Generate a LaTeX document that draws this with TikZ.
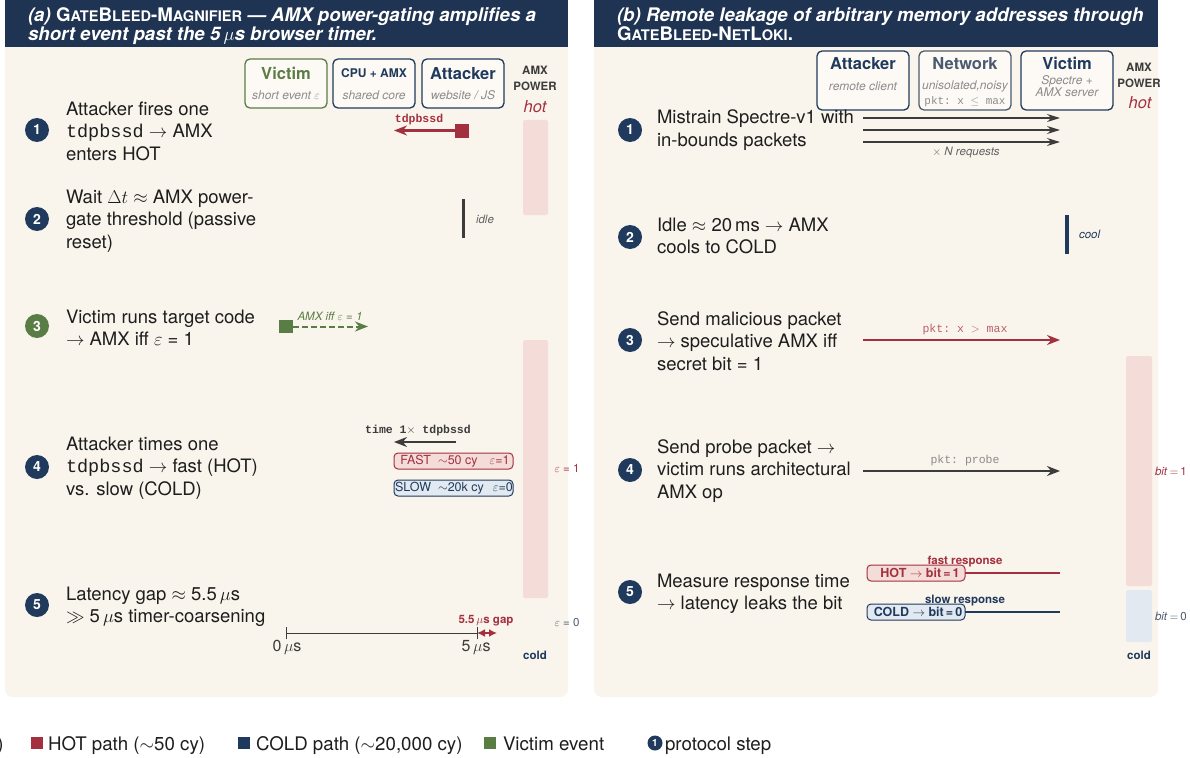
\RequirePackage{fix-cm}
\documentclass[tikz,border=0pt]{standalone}
\usepackage{fontspec}
\setmainfont{TeX Gyre Heros}
\setsansfont{TeX Gyre Heros}
\setmonofont{Liberation Mono}
\usetikzlibrary{arrows.meta}
\definecolor{navy}{HTML}{1F3A5C}
\definecolor{hdr}{HTML}{1F3352}
\definecolor{cred}{HTML}{A3303F}
\definecolor{cgreen}{HTML}{5A7D46}
\definecolor{cream}{HTML}{FAF5EC}
\definecolor{pinkf}{HTML}{F4DDD9}
\definecolor{bluef}{HTML}{E2E9F1}
\definecolor{dgray}{HTML}{3C3C3C}
\definecolor{lgray}{HTML}{8C8C8C}
\definecolor{ink}{HTML}{1E1E1E}
\definecolor{slate}{HTML}{4B5A6E}
\definecolor{lred}{HTML}{B8606B}
\newcommand{\fsc}[1]{{\fontsize{14.6}{19}\selectfont #1}}
\begin{document}
\begin{tikzpicture}[x=1pt,y=-1pt,
  every node/.style={inner sep=0pt, outer sep=0pt},
  hdrtxt/.style={anchor=base west, align=left, text=white, font=\fontsize{18.7}{19}\selectfont\bfseries},
  txt/.style={anchor=base west, align=left, font=\fontsize{18.5}{22.6}\selectfont, text=ink},
  stepc/.style={circle, fill=navy, minimum size=24pt, text=white, font=\fontsize{14}{14}\selectfont\bfseries},
  lane/.style={draw, rounded corners=5pt, line width=1.3pt, fill=white!55!cream, minimum width=82pt, minimum height=49pt, anchor=north west},
  lanet/.style={anchor=base, font=\fontsize{16.5}{16}\selectfont\bfseries},
  lanes/.style={anchor=base, font=\fontsize{12}{12}\selectfont\itshape, text=lgray},
  small/.style={anchor=base, font=\fontsize{11.5}{12}\selectfont},
  smallmono/.style={anchor=base, font=\fontsize{11.5}{12}\selectfont\ttfamily},
  pwr/.style={anchor=base, font=\fontsize{11.5}{12}\selectfont\bfseries, text=dgray},
  arr/.style={-{Stealth[length=13pt,width=10pt]}, line width=2.4pt},
  thinarr/.style={-{Stealth[length=13pt,width=8pt]}, line width=1.6pt},
  tag/.style={draw, rounded corners=4pt, line width=1pt, minimum height=16pt, anchor=west, font=\fontsize{12.5}{13}\selectfont},
  leg/.style={anchor=base west, font=\fontsize{18.7}{20}\selectfont, text=ink},
]
\useasboundingbox (0,0) rectangle (1190,757);
\fill[white] (0,0) rectangle (1190,757);
% ---------------- panels
\fill[cream, rounded corners=8pt] (5,30) rectangle (568,697);
\fill[hdr] (5,0) rectangle (568,47);
\fill[cream, rounded corners=8pt] (594,30) rectangle (1158,697);
\fill[hdr] (594,0) rectangle (1158,47);
\node[hdrtxt] (ha) at (28,41) {{\itshape (a)} G\fsc{ATE}B\fsc{LEED}-M\fsc{AGNIFIER} {\itshape --- AMX power-gating amplifies a}\\{\itshape short event past the 5\,$\mu$s browser timer.}};
\node[hdrtxt] (hb) at (617,41) {{\itshape (b) Remote leakage of arbitrary memory addresses through}\\G\fsc{ATE}B\fsc{LEED}-N\fsc{ET}L\fsc{OKI}.};

% ================= LEFT PANEL
\node[lane, draw=cgreen] (lv) at (245,59) {};
\node[lanet, text=cgreen] (lvt) at (286,80) {Victim};
\node[lanes] (lvs) at (286,100) {short event $\varepsilon$};
\node[lane, draw=navy] (lc) at (333,59) {};
\node[lanet, text=navy, font=\fontsize{12}{12}\selectfont\bfseries] (lct) at (374,78) {CPU + AMX};
\node[lanes] (lcs) at (374,100) {shared core};
\node[lane, draw=navy] (la) at (422,59) {};
\node[lanet, text=navy] (lat) at (463,80) {Attacker};
\node[lanes] (las) at (463,100) {website / JS};
\node[pwr] (lp1) at (535,75) {AMX};
\node[pwr] (lp2) at (535,91) {POWER};
\node[anchor=base, font=\fontsize{16.5}{16}\selectfont\itshape, text=cred] (lhot) at (535,113) {hot};
\fill[pinkf, rounded corners=2pt] (523,120) rectangle (548,215);
\fill[pinkf, rounded corners=2pt] (523,340) rectangle (548,598);
\node[small, text=cred] (le1) at (567,472) {$\varepsilon$ = 1};
\node[small, text=slate] (le0) at (567,626) {$\varepsilon$ = 0};
\node[pwr, text=navy] (lcold) at (535,659) {cold};

% steps
\node[stepc] (s1) at (37,130) {1};
\node[txt] (t1) at (66,160.2) {Attacker fires one\\\texttt{tdpbssd} $\to$ AMX\\enters HOT};
\node[stepc] (s2) at (37,219) {2};
\node[txt] (t2) at (66,248.2) {Wait $\Delta t\approx$ AMX power-\\gate threshold (passive\\reset)};
\node[stepc, fill=cgreen] (s3) at (37,326) {3};
\node[txt] (t3) at (66,345.6) {Victim runs target code\\$\to$ AMX iff $\varepsilon$ = 1};
\node[stepc] (s4) at (37,467) {4};
\node[txt] (t4) at (66,495.2) {Attacker times one\\\texttt{tdpbssd} $\to$ fast (HOT)\\vs. slow (COLD)};
\node[stepc] (s5) at (37,605) {5};
\node[txt] (t5) at (66,622.6) {Latency gap $\approx$ 5.5\,$\mu$s\\$\gg$ 5\,$\mu$s timer-coarsening};

% step 1 graphic
\node[fill=cred, minimum size=14pt] (sq1) at (462,130.5) {};
\coordinate (a1e) at (394,130.5);
\draw[arr, cred] (sq1.west) -- (a1e);
\node[smallmono, text=cred, font=\fontsize{11.5}{12}\selectfont\ttfamily\bfseries] (l1) at (419,122) {tdpbssd};
% step 2
\node[fill=dgray, minimum width=3.5pt, minimum height=39pt] (idlebar) at (463.5,218.5) {};
\node[small, anchor=base west, font=\fontsize{11.5}{12}\selectfont\itshape, text=dgray!80] (idle) at (476,223) {idle};
% step 3
\node[fill=cgreen, minimum size=13.5pt] (sq3) at (286,326.5) {};
\coordinate (a3e) at (368,326.5);
\draw[arr, cgreen, dash pattern=on 6pt off 3pt, line width=2pt] (sq3.east) -- (a3e);
\node[small, font=\fontsize{11.5}{12}\selectfont\itshape, text=cgreen] (l3) at (330,320) {AMX iff $\varepsilon$ = 1};
% step 4
\node[smallmono, text=dgray, font=\fontsize{11.5}{12}\selectfont\ttfamily\bfseries] (l4) at (418,433) {time 1$\times$ tdpbssd};
\coordinate (a4s) at (456,442);
\coordinate (a4e) at (394,442);
\draw[arr, dgray] (a4s) -- (a4e);
\node[tag, draw=cred, fill=pinkf, text=cred, minimum width=119pt] (fast) at (394,461) {\hspace{3pt}FAST\ \ $\sim$50 cy\hspace{12pt}$\varepsilon$=1};
\node[tag, draw=navy, fill=bluef, text=navy, minimum width=119pt] (slow) at (394,488) {\hspace{1pt}SLOW\ \ $\sim$20k cy\hspace{9pt}$\varepsilon$=0};
% step 5 timeline
\coordinate (tl0) at (286,633);
\coordinate (tl5) at (477,633);
\coordinate (tlg) at (497,633);
\draw[dgray, line width=1pt] (tl0) -- (tl5);
\draw[dgray, line width=1pt] ([yshift=-6pt]tl0) -- ([yshift=6pt]tl0);
\draw[dgray, line width=1pt] ([yshift=-6pt]tl5) -- ([yshift=6pt]tl5);
\draw[cred, line width=1.8pt, {Latex[length=8pt,width=8pt]}-{Latex[length=8pt,width=8pt]}] (tl5) -- (tlg);
\node[anchor=base, font=\fontsize{16}{16}\selectfont, text=dgray] (z0) at (287,651) {0\,$\mu$s};
\node[anchor=base, font=\fontsize{16}{16}\selectfont, text=dgray] (z5) at (476,651) {5\,$\mu$s};
\node[small, font=\fontsize{11.5}{12}\selectfont\bfseries, text=cred] (gap) at (486,623) {5.5\,$\mu$s gap};

% ================= RIGHT PANEL
\node[lane, draw=navy, minimum width=92pt, minimum height=59pt] (ra) at (817,51) {};
\node[lanet, text=navy] (rat) at (863,70) {Attacker};
\node[lanes] (ras) at (863,91) {remote client};
\node[lane, draw=slate, minimum width=92pt, minimum height=59pt] (rn) at (919,51) {};
\node[lanet, text=slate] (rnt) at (965,70) {Network};
\node[lanes] (rns) at (965,90) {unisolated,noisy};
\node[smallmono, text=lgray, font=\fontsize{11}{12}\selectfont\ttfamily] (rnp) at (965,105) {pkt: x $\leq$ max};
\node[lane, draw=navy, minimum width=92pt, minimum height=59pt] (rv) at (1021,51) {};
\node[lanet, text=navy] (rvt) at (1067,70) {Victim};
\node[lanes] (rvs1) at (1067,85) {Spectre +};
\node[lanes] (rvs2) at (1067,97) {AMX server};
\node[pwr] (rp1) at (1139,72) {AMX};
\node[pwr] (rp2) at (1139,88) {POWER};
\node[anchor=base, font=\fontsize{16.5}{16}\selectfont\itshape, text=cred] (rhot) at (1140,109) {hot};
\fill[pinkf, rounded corners=2pt] (1126,356) rectangle (1152,586);
\fill[bluef, rounded corners=2pt] (1126,590) rectangle (1152,642);
\node[small, anchor=base west, text=cred] (rb1) at (1155,475) {\textit{bit}$\,=\,$1};
\node[small, anchor=base west, text=slate] (rb0) at (1155,620) {\textit{bit}$\,=\,$0};
\node[pwr, text=navy] (rcold) at (1139,659) {cold};

\node[stepc] (r1) at (630,130) {1};
\node[txt] (rt1) at (657,146.6) {Mistrain Spectre-v1 with\\in-bounds packets};
\node[stepc] (r2) at (630,237) {2};
\node[txt] (rt2) at (657,253.6) {Idle $\approx$ 20\,ms $\to$ AMX\\cools to COLD};
\node[stepc] (r3) at (630,340) {3};
\node[txt] (rt3) at (657,370.2) {Send malicious packet\\$\to$ speculative AMX iff\\secret bit = 1};
\node[stepc] (r4) at (630,470) {4};
\node[txt] (rt4) at (657,498.2) {Send probe packet $\to$\\victim runs architectural\\AMX op};
\node[stepc] (r5) at (630,592) {5};
\node[txt] (rt5) at (657,609.6) {Measure response time\\$\to$ latency leaks the bit};

% step 1 arrows
\coordinate (m1s) at (863,118); \coordinate (m1e) at (1060,118);
\coordinate (m2s) at (863,130); \coordinate (m2e) at (1060,130);
\coordinate (m3s) at (863,142); \coordinate (m3e) at (1060,142);
\draw[thinarr, dgray] (m1s) -- (m1e);
\draw[thinarr, dgray] (m2s) -- (m2e);
\draw[thinarr, dgray] (m3s) -- (m3e);
\node[small, text=dgray!80] (nreq) at (966,155) {$\times$ \textit{N requests}};
% step 2
\node[fill=navy, minimum width=4pt, minimum height=39pt] (coolbar) at (1066.5,234.5) {};
\node[small, anchor=base west, font=\fontsize{11.5}{12}\selectfont\itshape, text=navy] (cool) at (1079,238) {cool};
% step 3
\coordinate (p3s) at (863,340); \coordinate (p3e) at (1060,340);
\draw[arr, cred] (p3s) -- (p3e);
\node[smallmono, text=lred] (pk3) at (965,332) {pkt: x $>$ max};
% step 4
\coordinate (p4s) at (863,471); \coordinate (p4e) at (1060,471);
\draw[arr, dgray] (p4s) -- (p4e);
\node[smallmono, text=lgray] (pk4) at (965,463) {pkt: probe};
% step 5
\node[tag, draw=cred, fill=pinkf, text=cred, minimum width=98pt, font=\fontsize{12.5}{13}\selectfont\bfseries] (hotb) at (867,573) {\hspace{8pt}HOT $\to$ bit$\,$=$\,$1};
\coordinate (hle) at (1060,573);
\draw[cred, line width=2.4pt] (hotb.east) -- (hle);
\node[small, font=\fontsize{11.5}{12}\selectfont\bfseries, text=cred] (fastr) at (965,564) {fast response};
\node[tag, draw=navy, fill=bluef, text=navy, minimum width=98pt, font=\fontsize{12.5}{13}\selectfont\bfseries] (coldb) at (867,612) {\hspace{4pt}COLD $\to$ bit$\,$=$\,$0};
\coordinate (cle) at (1060,612);
\draw[navy, line width=2.4pt] (coldb.east) -- (cle);
\node[small, font=\fontsize{11.5}{12}\selectfont\bfseries, text=navy] (slowr) at (965,603) {slow response};

% ================= LEGEND
\node[leg, anchor=base east] (lgp) at (3.5,750) {)};
\node[fill=cred, minimum size=12.5pt] (lg1) at (37,743) {};
\node[leg] (lg1t) at (48,750) {HOT path ($\sim$50 cy)};
\node[fill=navy, minimum size=12.5pt] (lg2) at (244,743) {};
\node[leg] (lg2t) at (256,750) {COLD path ($\sim$20,000 cy)};
\node[fill=cgreen, minimum size=12.5pt] (lg3) at (490,743) {};
\node[leg] (lg3t) at (503,750) {Victim event};
\node[stepc, minimum size=15pt, font=\fontsize{10}{10}\selectfont\bfseries] (lg4) at (655,743) {1};
\node[leg] (lg4t) at (665,750) {protocol step};
\end{tikzpicture}
\end{document}
